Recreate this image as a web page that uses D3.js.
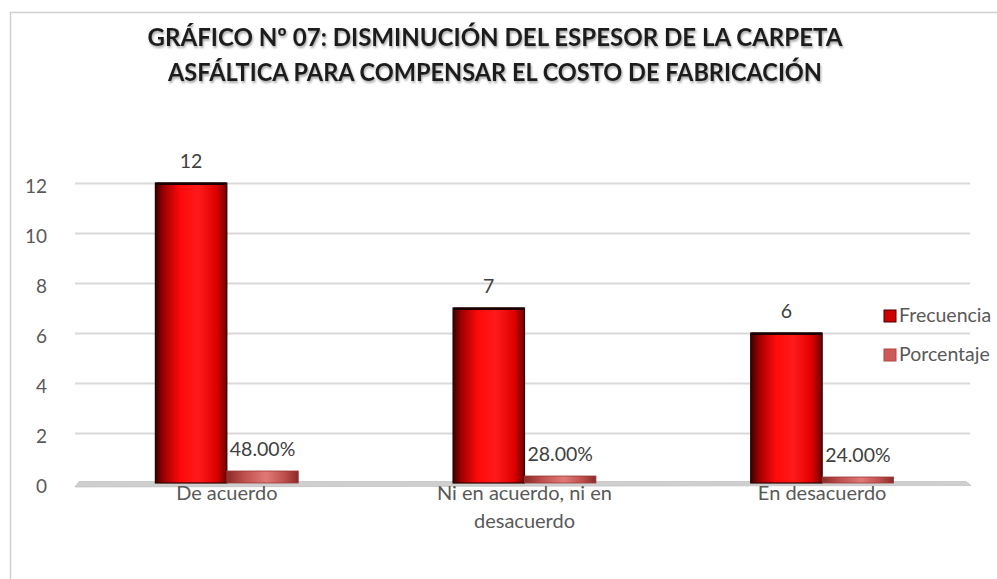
<!DOCTYPE html>
<html><head><meta charset="utf-8">
<script src="https://cdn.jsdelivr.net/npm/d3@7"></script>
<style>
html,body{margin:0;padding:0;background:#fff;}
svg{display:block;}
</style></head>
<body><svg id="chart" width="997" height="579"></svg>
<script>
const categories = [["De acuerdo"], ["Ni en acuerdo, ni en", "desacuerdo"], ["En desacuerdo"]];
const seriesNames = ["Frecuencia", "Porcentaje"];
const frecuencia = [12, 7, 6];
const porcentaje = [0.48, 0.28, 0.24];
const porcentajeLabels = ["48.00%", "28.00%", "24.00%"];
const yTicks = [0, 2, 4, 6, 8, 10, 12];
const titleLines = ["GRÁFICO Nº 07: DISMINUCIÓN DEL ESPESOR DE LA CARPETA", "ASFÁLTICA PARA COMPENSAR EL COSTO DE FABRICACIÓN"];

const svg = d3.select("#chart");
const font = "Lato, 'Open Sans', sans-serif";
const defs = svg.append("defs");

function grad(id, stops) {
  const g = defs.append("linearGradient").attr("id", id).attr("x1", "0").attr("x2", "1").attr("y1", "0").attr("y2", "0");
  stops.forEach(s => g.append("stop").attr("offset", s[0]).attr("stop-color", s[1]));
}
grad("gF", [[0, "#3a0000"], [0.12, "#a00000"], [0.35, "#ff0a0a"], [0.6, "#ff1a1a"], [0.85, "#e00000"], [1, "#700000"]]);
grad("gP", [[0, "#8a2b2a"], [0.25, "#c0504d"], [0.55, "#e07a77"], [0.8, "#c0504d"], [1, "#8a2b2a"]]);
const filt = defs.append("filter").attr("id", "sh").attr("x", "-5%").attr("y", "-20%").attr("width", "110%").attr("height", "160%");
filt.append("feDropShadow").attr("dx", 1).attr("dy", 2).attr("stdDeviation", 1.2).attr("flood-color", "#000").attr("flood-opacity", 0.35);

// chart frame
svg.append("line").attr("x1", 10).attr("x2", 997).attr("y1", 12.5).attr("y2", 12.5).attr("stroke", "#d0d0d0").attr("stroke-width", 1.5);
svg.append("line").attr("x1", 10.5).attr("x2", 10.5).attr("y1", 12).attr("y2", 579).attr("stroke", "#d0d0d0").attr("stroke-width", 1.5);

// title
const tW = [695, 654];
svg.append("g").selectAll("text").data(titleLines).join("text")
  .attr("x", 495).attr("y", (d, i) => 46 + i * 35)
  .attr("text-anchor", "middle")
  .attr("font-family", font).attr("font-weight", "bold").attr("font-size", 25)
  .attr("fill", "#1f1f1f").attr("filter", "url(#sh)")
  .attr("textLength", (d, i) => tW[i]).attr("lengthAdjust", "spacingAndGlyphs")
  .text(d => d);

const left = 75, right = 968;
const y = d3.scaleLinear().domain([0, 12]).range([483, 183]);
const x0 = d3.scaleBand().domain(d3.range(categories.length)).range([left + 3, right + 3]).paddingInner(0.52).paddingOuter(0.26);
const x1 = d3.scaleBand().domain(seriesNames).range([0, x0.bandwidth()]);

// gridlines + y axis
const yAxis = d3.axisLeft(y).tickValues(yTicks).tickSize(0).tickPadding(0).tickFormat(d3.format("d"));
const gy = svg.append("g").attr("transform", `translate(${left},0)`).call(yAxis);
gy.select(".domain").remove();
gy.selectAll("text").attr("x", -28).attr("dy", "0.5em").attr("font-family", font).attr("font-size", 19).attr("fill", "#595959");
gy.selectAll(".tick").filter(d => d !== 0).append("line")
  .attr("x1", 0).attr("x2", right - left + 2).attr("stroke", "#d9d9d9").attr("stroke-width", 2);

// floor
svg.append("path")
  .attr("d", `M${left + 4},${y(0) - 1.5} L${right - 2},${y(0) - 1.5} L${right + 3},${y(0) + 2.5} L${left},${y(0) + 4} Z`)
  .attr("fill", "#cfcfcf").attr("stroke", "#b8b8b8").attr("stroke-width", 0.6);

// bars
const groups = svg.append("g").selectAll("g").data(categories.map((c, i) => i)).join("g")
  .attr("transform", i => `translate(${x0(i)},0)`);

groups.append("rect")
  .attr("x", x1("Frecuencia")).attr("width", x1.bandwidth())
  .attr("y", i => y(frecuencia[i])).attr("height", i => y(0) - y(frecuencia[i]))
  .attr("fill", "url(#gF)").attr("stroke", "#2a0000").attr("stroke-width", 1.2);
groups.append("rect")
  .attr("x", i => x1("Frecuencia") + 0.6).attr("width", x1.bandwidth() - 1.2)
  .attr("y", i => y(frecuencia[i]) - 0.5).attr("height", 2.5).attr("fill", "#1a0000");

groups.append("rect")
  .attr("x", x1("Porcentaje")).attr("width", x1.bandwidth())
  .attr("y", i => y(porcentaje[i])).attr("height", i => y(0) - y(porcentaje[i]))
  .attr("fill", "url(#gP)").attr("stroke", "#9a3a38").attr("stroke-width", 0.8);

// labels
groups.append("text")
  .attr("x", x1("Frecuencia") + x1.bandwidth() / 2).attr("y", i => y(frecuencia[i]) - 15)
  .attr("text-anchor", "middle").attr("font-family", font).attr("font-size", 19.5).attr("fill", "#404040")
  .text(i => frecuencia[i]);
groups.append("text")
  .attr("x", x1("Porcentaje") + x1.bandwidth() / 2).attr("y", i => y(porcentaje[i]) - 15)
  .attr("text-anchor", "middle").attr("font-family", font).attr("font-size", 19.5).attr("fill", "#404040")
  .text(i => porcentajeLabels[i]);

// category axis
const cat = svg.append("g").selectAll("text").data(categories.map((c, i) => i)).join("text")
  .attr("x", i => x0(i) + x0.bandwidth() / 2).attr("y", 500)
  .attr("text-anchor", "middle").attr("font-family", font).attr("font-size", 20).attr("fill", "#595959");
cat.selectAll("tspan").data(i => categories[i]).join("tspan")
  .attr("x", function () { return d3.select(this.parentNode).attr("x"); })
  .attr("dy", (d, j) => j === 0 ? 0 : 28).text(d => d);

// legend
const lg = svg.append("g").selectAll("g").data(seriesNames).join("g")
  .attr("transform", (d, i) => `translate(884,${310 + i * 39})`);
lg.append("rect").attr("width", 12).attr("height", 12)
  .attr("fill", (d, i) => i === 0 ? "#d00000" : "#cc5a57")
  .attr("stroke", (d, i) => i === 0 ? "#400000" : "#b04846").attr("stroke-width", 1);
lg.append("text").attr("x", 15).attr("y", 12).attr("font-family", font).attr("font-size", 19.5).attr("fill", "#595959").text(d => d);
</script></body></html>
